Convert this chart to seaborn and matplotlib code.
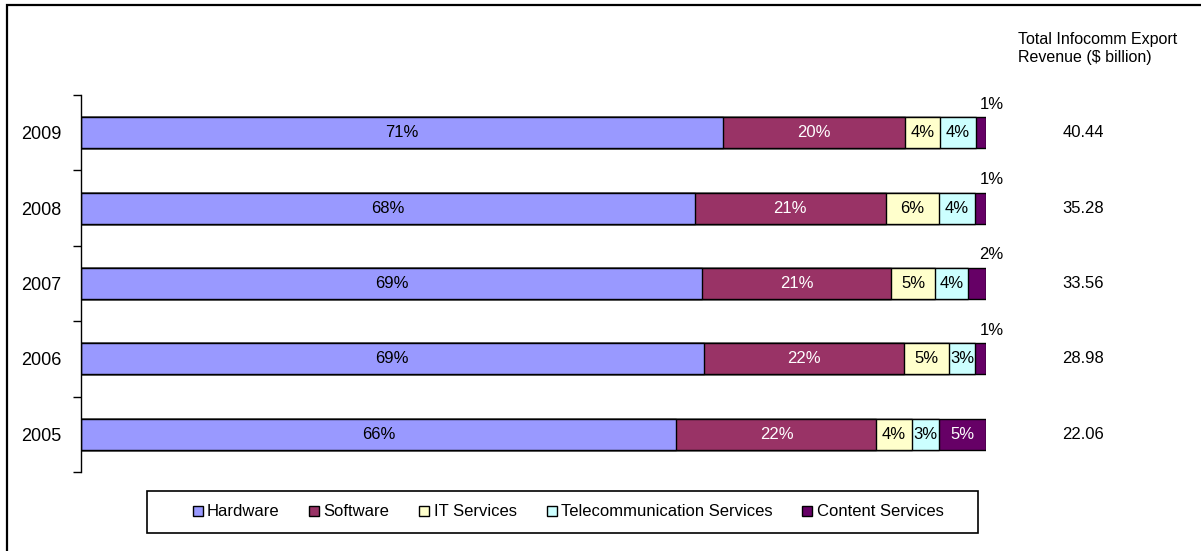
import numpy as np
import pandas as pd
import matplotlib
matplotlib.use("Agg")
import matplotlib.pyplot as plt
import seaborn as sns
from matplotlib.lines import Line2D
from matplotlib.patches import Rectangle
from matplotlib.transforms import blended_transform_factory

# -----------------------------
# Datos (porcentajes)
# -----------------------------
years = ["2009", "2008", "2007", "2006", "2005"]
hardware = [70.9, 67.8, 68.6, 68.8, 65.8]
software = [20.1, 21.1, 20.9, 22.1, 22.1]
it_services = [3.9, 5.9, 4.9, 5.0, 3.9]
telecom = [4.0, 4.0, 3.6, 2.9, 3.0]
content = [1.1, 1.2, 2.0, 1.2, 5.2]
revenue = [40.44, 35.28, 33.56, 28.98, 22.06]

CATS = ["Hardware", "Software", "IT Services",
        "Telecommunication Services", "Content Services"]
COLORS = ["#9999FF", "#993366", "#FFFFCC", "#CCFFFF", "#660066"]
TEXT_COLORS = ["black", "white", "black", "black", "white"]

df = pd.DataFrame({
    "Year": years,
    "Hardware": hardware,
    "Software": software,
    "IT Services": it_services,
    "Telecommunication Services": telecom,
    "Content Services": content,
})
cum = df[CATS].cumsum(axis=1)

sns.set_theme(style="white")
plt.rcParams["font.family"] = ["Liberation Sans", "DejaVu Sans"]
plt.rcParams["text.color"] = "black"
plt.rcParams["ytick.color"] = "black"

W, H = 1201, 551
fig = plt.figure(figsize=(W / 100, H / 100), dpi=100)
ax = fig.add_axes([81 / W, 79 / H, 905 / W, 377 / H])

# barras apiladas: se dibujan acumuladas de derecha a izquierda
for cat, col in reversed(list(zip(CATS, COLORS))):
    sns.barplot(x=cum[cat], y=df["Year"], order=years, orient="h",
                color=col, saturation=1, edgecolor="black", linewidth=1,
                width=0.41, errorbar=None, ax=ax)

ax.set_xlim(0, 100)
ax.set_ylim(4.5, -0.5)
ax.set_xlabel("")
ax.set_ylabel("")
ax.set_xticks([])
for s in ["top", "right", "bottom"]:
    ax.spines[s].set_visible(False)
ax.spines["left"].set_color("black")
ax.spines["left"].set_linewidth(1)
ax.set_yticks(np.arange(-0.5, 5, 1), minor=True)
ax.tick_params(axis="y", which="major", length=0, pad=14,
               labelsize=13, labelcolor="black")
ax.tick_params(axis="y", which="minor", left=True, length=6, width=1,
               direction="out", color="black")

# etiquetas de porcentaje
for i, year in enumerate(years):
    left = 0
    for cat, tc in zip(CATS, TEXT_COLORS):
        v = df.loc[i, cat]
        lab = f"{v:.0f}%"
        if cat == "Content Services" and v < 3:
            ax.text(100.6, i - 0.38, lab, ha="center", va="center",
                    fontsize=12, color="black")
        else:
            ax.text(left + v / 2, i, lab, ha="center", va="center",
                    fontsize=12, color=tc)
        left += v

# columna de ingresos totales
trans = blended_transform_factory(fig.transFigure, ax.transData)
for i, r in enumerate(revenue):
    ax.text(1083 / W, i, f"{r:.2f}", transform=trans, ha="center",
            va="center", fontsize=12, color="black")

fig.text(1018 / W, 1 - 32 / H, "Total Infocomm Export\nRevenue ($ billion)",
         ha="left", va="top", fontsize=11.5, linespacing=1.25)

# marco exterior (solo visibles borde superior e izquierdo)
fig.add_artist(Rectangle((7 / W, -0.2), 1.5, 1.2 - 5 / H,
                         transform=fig.transFigure, fill=False,
                         edgecolor="black", linewidth=1.6))

# leyenda con marco propio
fig.add_artist(Rectangle((147 / W, 1 - 533 / H), 831 / W, 42 / H,
                         transform=fig.transFigure, fill=False,
                         edgecolor="black", linewidth=1.2))
handles = [Line2D([], [], marker="s", linestyle="none", markersize=6.5,
                  markerfacecolor=c, markeredgecolor="black",
                  markeredgewidth=1) for c in COLORS]
fig.legend(handles, CATS, loc="center",
           bbox_to_anchor=(568.5 / W, 1 - 512 / H), ncol=5, frameon=False,
           fontsize=12, handlelength=0.5, handletextpad=0.3,
           columnspacing=1.85, borderpad=0)

fig.savefig("out.png", dpi=100)
